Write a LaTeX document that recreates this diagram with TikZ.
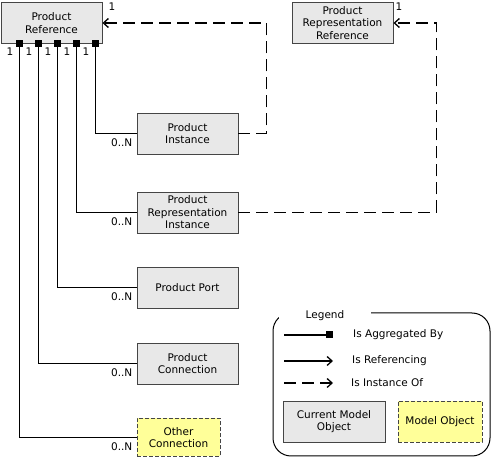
\documentclass[tikz,border=0pt]{standalone}
\usepackage{fontspec}
\setmainfont{DejaVu Sans}
\usetikzlibrary{arrows.meta}
\definecolor{boxgray}{HTML}{E8E8E8}
\definecolor{boxline}{HTML}{454545}
\definecolor{modelyellow}{HTML}{FFFF99}
\tikzset{
    obj/.style={draw=boxline, fill=boxgray, line width=0.9pt, minimum width=101pt, minimum height=41pt,
        align=center, inner sep=0pt, font=\fontsize{10.5}{12.5}\selectfont},
    modelobj/.style={obj, fill=modelyellow, dash pattern=on 4pt off 2pt},
    aggr/.style={line width=1.3pt, -{Square[length=7pt,width=7pt]}},
    refs/.style={line width=1.3pt, -{Straight Barb[length=5pt,width=9pt]}},
    inst/.style={refs, dash pattern=on 12pt off 6pt},
    card/.style={font=\fontsize{10.5}{12}\selectfont, inner sep=1pt},
}
\begin{document}
\begin{tikzpicture}[x=1pt,y=-1pt]
    \useasboundingbox (0,0) rectangle (491,457);
    % model objects
    \foreach \x/\y/\n/\l in {51.5/23/pref/{Product\\Reference},342.5/23/prref/{Product\\Representation\\Reference},
        187.5/133.5/pinst/{Product\\Instance},187.5/212.5/prinst/{Product\\Representation\\Instance},
        187.5/287.5/pport/{Product Port},187.5/363.5/pconn/{Product\\Connection}}{
        \node[obj] (\n) at (\x,\y) {\l};
    }
    \node[modelobj, minimum width=83pt, minimum height=38pt] (oconn) at (178.5,437.5) {Other\\Connection};
    % aggregation
    \foreach \s/\n/\c in {19/oconn/a,38/pconn/b,57/pport/c,76/prinst/d,95/pinst/e}{
        \draw[aggr] (\n.west) -| ([xshift=\s pt,yshift=3.5pt]pref.south west);
        \node[card, anchor=north east] (one\c) at ([xshift=\s pt-5pt,yshift=-3pt]pref.south west) {1};
        \node[card, anchor=north east] (many\c) at ([xshift=-3pt,yshift=-4pt]\n.west) {0..N};
    }
    % instances
    \draw[inst] (pinst.east) -- ++(28,0) |- (pref.east);
    \draw[inst] (prinst.east) -- ++(198,0) |- (prref.east);
    \node[card] (prefone) at (112,7) {1};
    \node[card] (prrefone) at (399,7) {1};
    % legend
    \draw[line width=1pt, rounded corners=18pt] (273,313) rectangle (490,456);
    \node[card, fill=white, minimum width=92pt, minimum height=14pt] (legend) at (325,316) {Legend};
    \foreach \y/\n/\s/\x/\l in {335/la/aggr/352/Is Aggregated By,361/lb/refs/351/Is Referencing,383/lc/inst/350/Is Instance Of}{
        \coordinate (\n) at (284,\y);
        \node[card, anchor=west] (\n text) at (\x,\y) {\l};
        \draw[\s] (\n) -- ++(49,0);
    }
    \node[obj, minimum width=102pt] (curobj) at (334,421.5) {Current Model\\Object};
    \node[modelobj, minimum width=84pt] (modobj) at (440,421.5) {Model Object};
\end{tikzpicture}
\end{document}
